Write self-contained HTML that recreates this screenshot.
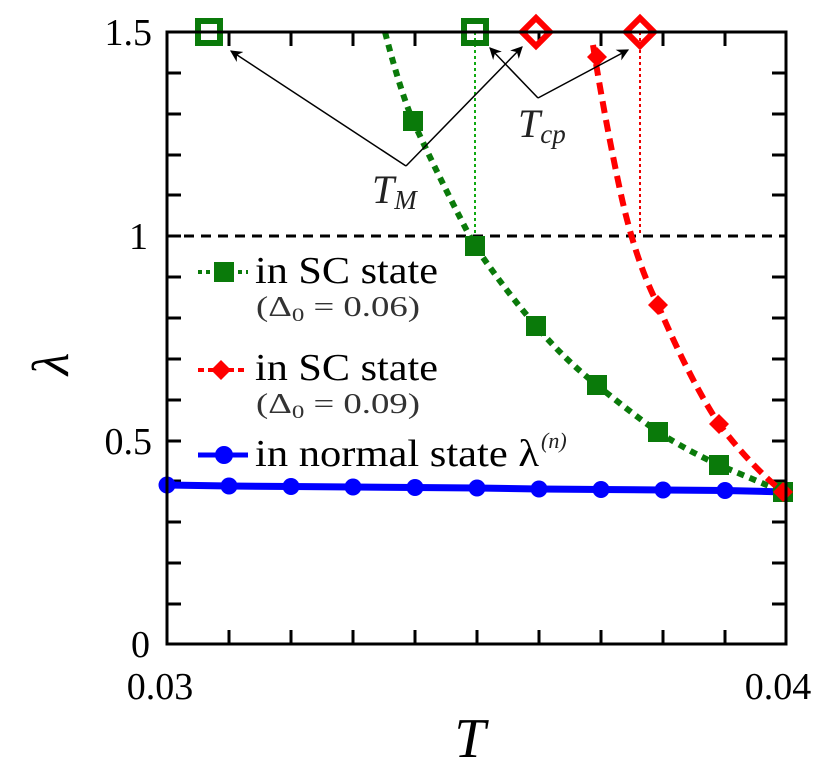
<!DOCTYPE html>
<html><head><meta charset="utf-8"><style>html,body{margin:0;padding:0;background:#fff}svg{display:block}svg text{font-family:"Liberation Serif","DejaVu Serif",serif}
#lam{position:absolute;left:22px;top:334px;width:60px;height:60px;line-height:60px;text-align:center;font:italic 52px "Liberation Serif","DejaVu Serif",serif;transform:rotate(-90deg);}</style></head><body>
<div style="position:relative;width:816px;height:769px">
<svg width="816" height="769" viewBox="0 0 816 769" xmlns="http://www.w3.org/2000/svg">
<defs>
<marker id="ah" viewBox="0 0 10 10" refX="9" refY="5" markerWidth="12" markerHeight="12" orient="auto" markerUnits="userSpaceOnUse"><path d="M0,0 L10,5 L0,10 L3,5 Z" fill="#000"/></marker>
</defs>
<g stroke="#000" stroke-width="3">
<path d="M167 73h14M167 114h14M167 155h14M167 195h14M167 236h14M167 277h14M167 318h14M167 359h14M167 400h14M167 441h14M167 481h14M167 522h14M167 563h14M167 604h14"/>
<path d="M786 73h-14M786 114h-14M786 155h-14M786 195h-14M786 277h-14M786 318h-14M786 359h-14M786 400h-14M786 441h-14M786 481h-14M786 522h-14M786 563h-14M786 604h-14"/>
<path d="M229 644v-14M291 644v-14M353 644v-14M415 644v-14M477 644v-14M539 644v-14M601 644v-14M663 644v-14M725 644v-14"/>
<path d="M229 32v14M291 32v14M353 32v14M415 32v14M539 32v14M601 32v14M663 32v14M725 32v14"/>
</g>
<line x1="167" y1="236" x2="786" y2="236" stroke="#000" stroke-width="3" stroke-dasharray="10,7"/>
<line x1="475" y1="32" x2="475" y2="236" stroke="#1a1" stroke-width="2" stroke-dasharray="3,3"/>
<line x1="640" y1="32" x2="640" y2="236" stroke="#e00" stroke-width="2" stroke-dasharray="3,3"/>
<polyline points="167,485 229,486 291,486.5 353,487 415,487.5 477,488 539,489 601,489.5 663,490 725,490.5 786,492" fill="none" stroke="#00f" stroke-width="7"/>
<g fill="#00f">
<circle cx="167" cy="485" r="8.5"/><circle cx="229" cy="486" r="8.5"/><circle cx="291" cy="486.5" r="8.5"/><circle cx="353" cy="487" r="8.5"/><circle cx="415" cy="487.5" r="8.5"/><circle cx="477" cy="488" r="8.5"/><circle cx="539" cy="489" r="8.5"/><circle cx="601" cy="489.5" r="8.5"/><circle cx="663" cy="490" r="8.5"/><circle cx="725" cy="490.5" r="8.5"/>
</g>
<path d="M385,32 Q400,90 413,121 Q445,190 475,246 Q505,290 536,326 Q565,360 597,385 Q630,412 658,432 Q690,452 719,465 Q755,480 783,492" fill="none" stroke="#0a7a0a" stroke-width="6" stroke-dasharray="7,6"/>
<g fill="#0a7a0a">
<rect x="403" y="111" width="20" height="20"/><rect x="465" y="236" width="20" height="20"/><rect x="526" y="316" width="20" height="20"/><rect x="587" y="375" width="20" height="20"/><rect x="648" y="422" width="20" height="20"/><rect x="709" y="455" width="20" height="20"/><rect x="773" y="482" width="20" height="20"/>
</g>
<path d="M593,45 Q605,120 620,190 Q635,260 658,305 Q690,380 719,424 Q750,465 783,492" fill="none" stroke="#f00" stroke-width="6" stroke-dasharray="12,7"/>
<g fill="#f00">
<path d="M597,47 l10,10 -10,10 -10,-10z"/><path d="M658,295 l10,10 -10,10 -10,-10z"/><path d="M719,414 l10,10 -10,10 -10,-10z"/><path d="M783,482 l10,10 -10,10 -10,-10z"/>
</g>
<g fill="none" stroke-width="6">
<rect x="198" y="21" width="22" height="22" stroke="#0a7a0a"/>
<rect x="464" y="21" width="22" height="22" stroke="#0a7a0a"/>
<path d="M536,18 l14,14 -14,14 -14,-14z" stroke="#f00"/>
<path d="M640,18 l14,14 -14,14 -14,-14z" stroke="#f00"/>
</g>
<rect x="167" y="32" width="619" height="612" fill="none" stroke="#000" stroke-width="3"/>
<g stroke="#000" stroke-width="1.5" fill="none">
<line x1="406" y1="166" x2="231" y2="51" marker-end="url(#ah)"/>
<line x1="406" y1="166" x2="522" y2="47" marker-end="url(#ah)"/>
<line x1="538" y1="98" x2="490" y2="48" marker-end="url(#ah)"/>
<line x1="538" y1="98" x2="628" y2="50" marker-end="url(#ah)"/>
</g>
<text x="372" y="203" font-size="40" font-style="italic" fill="#222">T<tspan font-size="27" dy="6">M</tspan></text>
<text x="518" y="137" font-size="40" font-style="italic" fill="#222">T<tspan font-size="27" dy="6">cp</tspan></text>
<line x1="198" y1="272" x2="248" y2="272" stroke="#0a7a0a" stroke-width="4" stroke-dasharray="4,4"/>
<rect x="214" y="262" width="20" height="20" fill="#0a7a0a"/>
<text x="255" y="283" font-size="38" textLength="183" lengthAdjust="spacingAndGlyphs">in SC state</text>
<text x="256" y="316" font-size="28" fill="#333" textLength="164" lengthAdjust="spacingAndGlyphs">(Δ<tspan font-size="19" dy="5">0</tspan><tspan dy="-5"> = 0.06)</tspan></text>
<line x1="198" y1="370" x2="248" y2="370" stroke="#f00" stroke-width="4" stroke-dasharray="6,4"/>
<path d="M221,360 l10,10 -10,10 -10,-10z" fill="#f00"/>
<text x="255" y="380" font-size="38" textLength="183" lengthAdjust="spacingAndGlyphs">in SC state</text>
<text x="256" y="413" font-size="28" fill="#333" textLength="164" lengthAdjust="spacingAndGlyphs">(Δ<tspan font-size="19" dy="5">0</tspan><tspan dy="-5"> = 0.09)</tspan></text>
<line x1="198" y1="455" x2="248" y2="455" stroke="#00f" stroke-width="5"/>
<circle cx="224" cy="455" r="9" fill="#00f"/>
<text x="255" y="466" font-size="38" textLength="284" lengthAdjust="spacingAndGlyphs">in normal state λ</text>
<text x="541" y="448" font-size="22" font-style="italic" fill="#222">(n)</text>
<g font-size="38" text-anchor="end">
<text x="152" y="45">1.5</text>
<text x="148" y="249">1</text>
<text x="152" y="454">0.5</text>
<text x="150" y="657">0</text>
</g>
<text x="160" y="699" font-size="38" text-anchor="middle">0.03</text>
<text x="778" y="699" font-size="38" text-anchor="middle">0.04</text>
<text x="470" y="757" font-size="56" font-style="italic" text-anchor="middle">T</text>
</svg>
<div id="lam">λ</div>
</div>
</body></html>
